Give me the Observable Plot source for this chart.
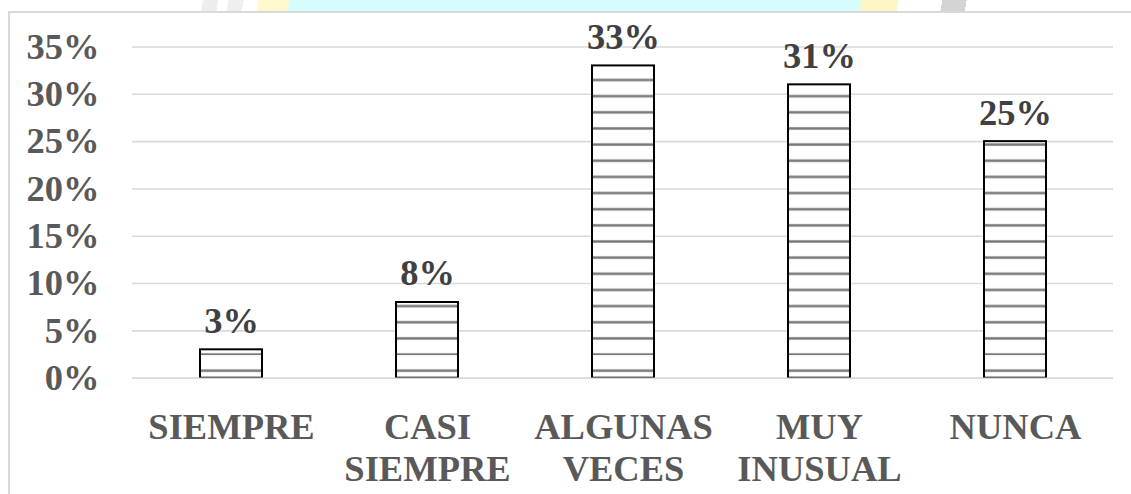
<!DOCTYPE html>
<html>
<head>
<meta charset="utf-8">
<script src="https://cdn.jsdelivr.net/npm/d3@7"></script>
<script src="https://cdn.jsdelivr.net/npm/@observablehq/plot@0.6"></script>
<style>
  html, body { margin: 0; padding: 0; background: #fff; overflow: hidden; }
  #wrap { position: relative; width: 1131px; height: 494px; }
  #wm { position: absolute; left: 0; top: 0; width: 1131px; height: 12px;
        background: linear-gradient(100deg, #fff 0 200px, #ededed 200px 215px, #fff 215px 225px, #efefef 225px 240px, #fff 240px 255px,
                    #fff8cc 255px 285px, #d6fdfd 285px 848px, #fff6c6 848px 885px, #fff 885px 928px, #d4d4d4 928px 952px, #fff 952px); }
  #frame { position: absolute; left: 8px; top: 11px; width: 1200px; height: 600px;
           border-top: 2px solid #d9d9d9; border-left: 2px solid #d9d9d9; pointer-events: none; }
  svg text { font-family: "Liberation Serif", "Times New Roman", serif; font-weight: bold; }
</style>
</head>
<body>
<div id="wrap"><div id="wm"></div><div id="chart"></div><div id="frame"></div></div>
<script>
const categories = ["SIEMPRE", "CASI SIEMPRE", "ALGUNAS VECES", "MUY INUSUAL", "NUNCA"];
const values = [3, 8, 33, 31, 25];
const yTicks = [0, 5, 10, 15, 20, 25, 30, 35];

const data = categories.map((c, i) => ({cat: c, value: values[i]}));

const chart = Plot.plot({
  width: 1131,
  height: 494,
  marginLeft: 132,
  marginRight: 18,
  marginTop: 46.5,
  marginBottom: 116.3,
  style: {background: "transparent", fontFamily: "Liberation Serif", overflow: "visible"},
  x: {domain: categories, paddingInner: 0.684, paddingOuter: 0.342, label: null},
  y: {domain: [0, 35], label: null},
  marks: [
    Plot.gridY(yTicks, {stroke: "#d9d9d9", strokeOpacity: 1, strokeWidth: 1.6}),
    Plot.barY(data, {x: "cat", y: "value", fill: "url(#stripesPat)", stroke: "#000", strokeWidth: 2}),
    Plot.ruleY([0], {stroke: "#d9d9d9", strokeWidth: 1.6}),
    Plot.text(data, {x: "cat", y: "value", text: d => d.value + "%", dy: -17, lineAnchor: "bottom",
      fontSize: 36.5, fontWeight: "bold", fill: "#404040"}),
    Plot.axisY(yTicks, {tickFormat: d => d + "%", tickSize: 0, tickPadding: 33, fontSize: 36.5,
      fontWeight: "bold", fill: "#595959", label: null}),
    Plot.axisX({tickSize: 0, tickPadding: 31, fontSize: 36.5, fontWeight: "bold", fill: "#595959",
      lineHeight: 1.15, tickFormat: d => d.replace(" ", "\n"), label: null})
  ]
});

// stripe pattern, aligned to the zero baseline
const y0 = chart.scale("y").apply(0);
const step = 16.15;
const ns = "http://www.w3.org/2000/svg";
const defs = document.createElementNS(ns, "defs");
const pat = document.createElementNS(ns, "pattern");
pat.setAttribute("id", "stripesPat");
pat.setAttribute("patternUnits", "userSpaceOnUse");
pat.setAttribute("width", 10);
pat.setAttribute("height", step);
pat.setAttribute("y", y0 - 7 - step / 2);
const bg = document.createElementNS(ns, "rect");
bg.setAttribute("width", 10); bg.setAttribute("height", step); bg.setAttribute("fill", "#fff");
const l1 = document.createElementNS(ns, "rect");
l1.setAttribute("y", step / 2 - 1.5); l1.setAttribute("width", 10); l1.setAttribute("height", 3); l1.setAttribute("fill", "#a8a8a8");
const l2 = document.createElementNS(ns, "rect");
l2.setAttribute("y", step / 2 - 0.8); l2.setAttribute("width", 10); l2.setAttribute("height", 1.6); l2.setAttribute("fill", "#767676");
pat.append(bg, l1, l2);
defs.append(pat);
chart.insertBefore(defs, chart.firstChild);

document.getElementById("chart").append(chart);
</script>
</body>
</html>
